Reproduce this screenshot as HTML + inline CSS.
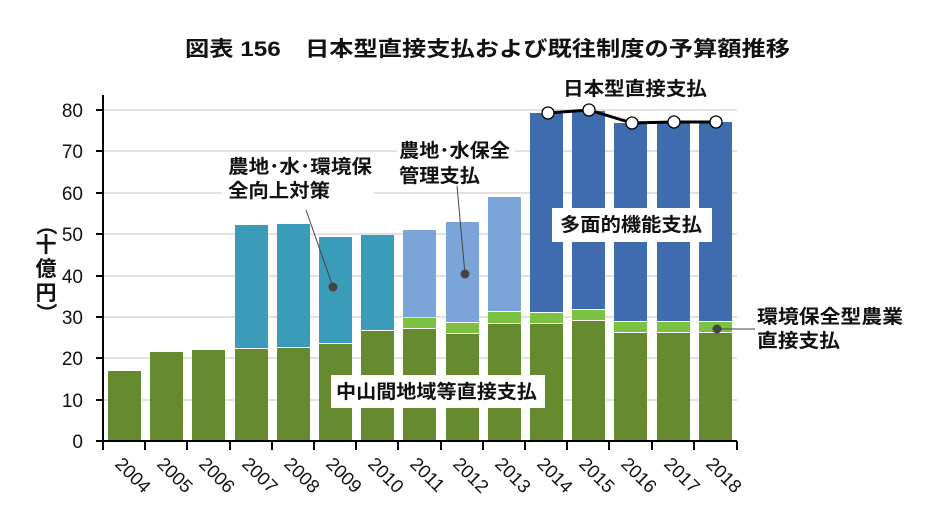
<!DOCTYPE html>
<html><head><meta charset="utf-8"><style>
html,body{margin:0;padding:0;background:#fff;}
svg{display:block;font-family:"Liberation Sans","Noto Sans CJK JP",sans-serif;}
.t{font-size:19px;font-weight:bold;fill:#111;}
.ax{font-size:19px;fill:#111;}
</style></head><body>
<svg width="932" height="527" viewBox="0 0 932 527" xmlns="http://www.w3.org/2000/svg">
<rect width="932" height="527" fill="#fff"/>
<text x="185" y="56" textLength="605" lengthAdjust="spacingAndGlyphs" style="font-size:21px;font-weight:bold;fill:#111">図表 156　日本型直接支払および既往制度の予算額推移</text>
<g stroke="#d9d9d9" stroke-width="1.5">
<line x1="103" x2="737" y1="400" y2="400"/><line x1="103" x2="737" y1="358" y2="358"/>
<line x1="103" x2="737" y1="317" y2="317"/><line x1="103" x2="737" y1="276" y2="276"/>
<line x1="103" x2="737" y1="234" y2="234"/><line x1="103" x2="737" y1="193" y2="193"/>
<line x1="103" x2="737" y1="151" y2="151"/><line x1="103" x2="737" y1="110" y2="110"/>
</g>
<g fill="#668a2e">
<rect x="108" y="371" width="33" height="70"/><rect x="150" y="352" width="33" height="89"/>
<rect x="192" y="350" width="33" height="91"/><rect x="235" y="349" width="33" height="92"/>
<rect x="277" y="348" width="33" height="93"/><rect x="319" y="344" width="33" height="97"/>
<rect x="361" y="331" width="33" height="110"/><rect x="403" y="329" width="33" height="112"/>
<rect x="446" y="334" width="33" height="107"/><rect x="488" y="324" width="33" height="117"/>
<rect x="530" y="324" width="33" height="117"/><rect x="572" y="321" width="33" height="120"/>
<rect x="614" y="333" width="33" height="108"/><rect x="657" y="333" width="33" height="108"/>
<rect x="699" y="333" width="33" height="108"/>
</g>
<g fill="#3a9cb8">
<rect x="235" y="225" width="33" height="123"/><rect x="277" y="224" width="33" height="123"/>
<rect x="319" y="237" width="33" height="106"/><rect x="361" y="235" width="33" height="95"/>
</g>
<g fill="#7cc142">
<rect x="403" y="318" width="33" height="10"/><rect x="446" y="323" width="33" height="10"/>
<rect x="488" y="312" width="33" height="11"/><rect x="530" y="313" width="33" height="10"/>
<rect x="572" y="310" width="33" height="10"/><rect x="614" y="322" width="33" height="10"/>
<rect x="657" y="322" width="33" height="10"/><rect x="699" y="322" width="33" height="10"/>
</g>
<g fill="#7ba4d9">
<rect x="403" y="230" width="33" height="87"/><rect x="446" y="222" width="33" height="100"/>
<rect x="488" y="197" width="33" height="114"/>
</g>
<g fill="#3f6caf">
<rect x="530" y="113" width="33" height="199"/><rect x="572" y="111" width="33" height="198"/>
<rect x="614" y="123" width="33" height="198"/><rect x="657" y="123" width="33" height="198"/>
<rect x="699" y="122" width="33" height="199"/>
</g>
<line x1="103" y1="95" x2="103" y2="441" stroke="#000" stroke-width="2"/>
<line x1="96" y1="441" x2="737" y2="441" stroke="#000" stroke-width="2"/>
<g stroke="#000" stroke-width="2">
<line x1="96" x2="103" y1="400" y2="400"/><line x1="96" x2="103" y1="358" y2="358"/><line x1="96" x2="103" y1="317" y2="317"/><line x1="96" x2="103" y1="276" y2="276"/><line x1="96" x2="103" y1="234" y2="234"/><line x1="96" x2="103" y1="193" y2="193"/><line x1="96" x2="103" y1="151" y2="151"/><line x1="96" x2="103" y1="110" y2="110"/>
<line x1="103" x2="103" y1="441" y2="450"/><line x1="145" x2="145" y1="441" y2="450"/><line x1="187" x2="187" y1="441" y2="450"/><line x1="230" x2="230" y1="441" y2="450"/><line x1="272" x2="272" y1="441" y2="450"/><line x1="314" x2="314" y1="441" y2="450"/><line x1="356" x2="356" y1="441" y2="450"/><line x1="398" x2="398" y1="441" y2="450"/><line x1="441" x2="441" y1="441" y2="450"/><line x1="483" x2="483" y1="441" y2="450"/><line x1="525" x2="525" y1="441" y2="450"/><line x1="567" x2="567" y1="441" y2="450"/><line x1="609" x2="609" y1="441" y2="450"/><line x1="652" x2="652" y1="441" y2="450"/><line x1="694" x2="694" y1="441" y2="450"/><line x1="737" x2="737" y1="441" y2="450"/>
</g>
<g class="ax" text-anchor="end">
<text x="83" y="448">0</text><text x="83" y="407">10</text><text x="83" y="365">20</text><text x="83" y="324">30</text><text x="83" y="283">40</text><text x="83" y="241">50</text><text x="83" y="200">60</text><text x="83" y="158">70</text><text x="83" y="117">80</text>
</g>
<g class="ax" style="font-size:18.5px">
<text transform="translate(114,465) rotate(45)">2004</text><text transform="translate(156,465) rotate(45)">2005</text><text transform="translate(198,465) rotate(45)">2006</text><text transform="translate(241,465) rotate(45)">2007</text><text transform="translate(283,465) rotate(45)">2008</text><text transform="translate(325,465) rotate(45)">2009</text><text transform="translate(367,465) rotate(45)">2010</text><text transform="translate(409,465) rotate(45)">2011</text><text transform="translate(452,465) rotate(45)">2012</text><text transform="translate(494,465) rotate(45)">2013</text><text transform="translate(536,465) rotate(45)">2014</text><text transform="translate(578,465) rotate(45)">2015</text><text transform="translate(620,465) rotate(45)">2016</text><text transform="translate(663,465) rotate(45)">2017</text><text transform="translate(705,465) rotate(45)">2018</text>
</g>
<g class="t" style="font-size:21px" text-anchor="middle">
<text x="46" y="232" transform="rotate(90 46 225)">（</text>
<text x="46" y="252">十</text><text x="46" y="276">億</text><text x="46" y="300">円</text>
<text x="46" y="320" transform="rotate(90 46 313)">）</text>
</g>
<polyline points="548,113 589,110 632,123 674,122 716,122" fill="none" stroke="#000" stroke-width="3"/>
<g fill="#fff" stroke="#000" stroke-width="1.3">
<circle cx="548" cy="113" r="6"/><circle cx="589" cy="110" r="6"/><circle cx="632" cy="123" r="6"/><circle cx="674" cy="122" r="6"/><circle cx="716" cy="122" r="6"/>
</g>
<text class="t" x="563" y="95" textLength="144" lengthAdjust="spacingAndGlyphs">日本型直接支払</text>
<rect x="222" y="152" width="152" height="52" fill="#fff"/>
<text class="t" x="228" y="173" textLength="144" lengthAdjust="spacingAndGlyphs">農地･水･環境保</text>
<text class="t" x="228" y="197" textLength="102" lengthAdjust="spacingAndGlyphs">全向上対策</text>
<line x1="306" y1="210" x2="333" y2="287" stroke="#444" stroke-width="1"/>
<circle cx="333" cy="287" r="4.5" fill="#444"/>
<rect x="397" y="138" width="118" height="50" fill="#fff"/>
<text class="t" x="399" y="157" textLength="111" lengthAdjust="spacingAndGlyphs">農地･水保全</text>
<text class="t" x="399" y="182" textLength="81" lengthAdjust="spacingAndGlyphs">管理支払</text>
<line x1="457" y1="186" x2="465" y2="274" stroke="#444" stroke-width="1"/>
<circle cx="465" cy="274" r="4.5" fill="#444"/>
<rect x="552" y="208" width="160" height="34" fill="#fff"/>
<text class="t" x="560" y="231" textLength="142" lengthAdjust="spacingAndGlyphs">多面的機能支払</text>
<rect x="331" y="375" width="214" height="33" fill="#fff"/>
<text class="t" x="336" y="398" textLength="201" lengthAdjust="spacingAndGlyphs">中山間地域等直接支払</text>
<line x1="717" y1="329" x2="755" y2="329" stroke="#444" stroke-width="1"/>
<circle cx="717" cy="329" r="4.5" fill="#444"/>
<text class="t" x="757" y="323" textLength="146" lengthAdjust="spacingAndGlyphs">環境保全型農業</text>
<text class="t" x="757" y="347" textLength="83" lengthAdjust="spacingAndGlyphs">直接支払</text>
</svg>
</body></html>
